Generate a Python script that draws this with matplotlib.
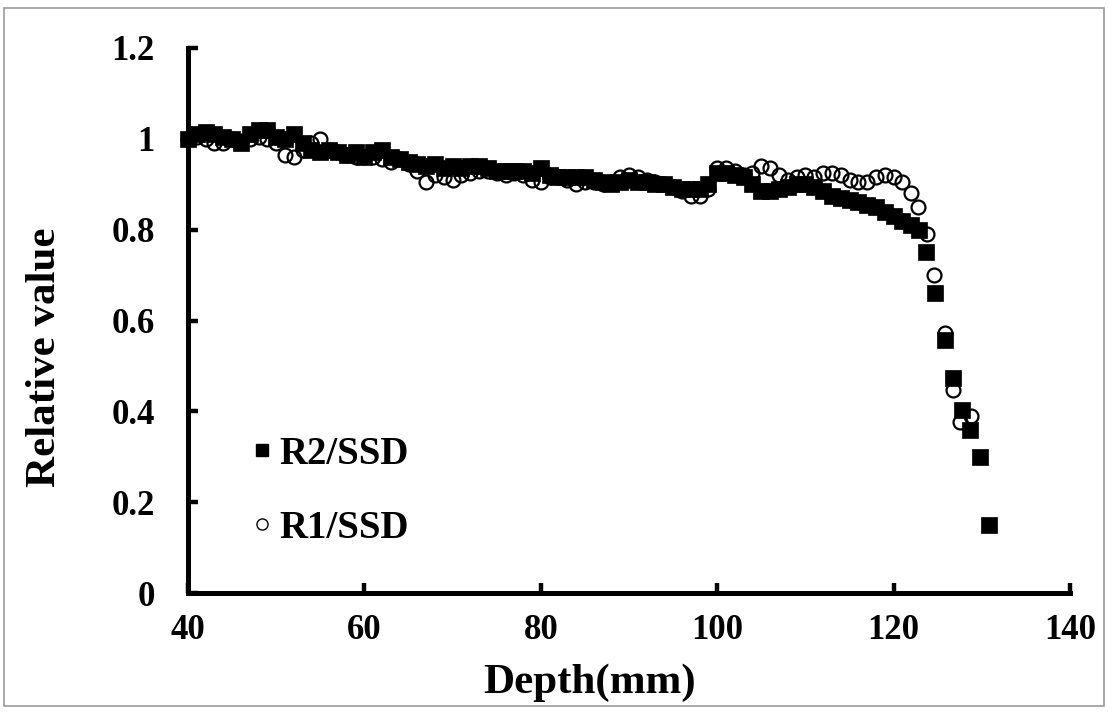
import matplotlib
matplotlib.use("Agg")
import matplotlib.pyplot as plt
from matplotlib.lines import Line2D
from matplotlib.patches import Rectangle

# ---- data ----
depth_r2 = [40, 41, 42, 43, 44, 45, 46, 47, 48, 49, 50, 51, 52, 53, 54, 55, 56, 57, 58, 59,
            60, 61, 62, 63, 64, 65, 66, 67, 68, 69, 70, 71, 72, 73, 74, 75, 76, 77, 78, 79,
            80, 81, 82, 83, 84, 85, 86, 87, 88, 89, 90, 91, 92, 93, 94, 95, 96, 97, 98, 99,
            100, 101, 102, 103, 104, 105, 106, 107, 108, 109, 110, 111, 112, 113, 114, 115,
            116, 117, 118, 119, 120, 121, 122, 122.9, 123.7, 124.7, 125.8, 126.7, 127.8,
            128.7, 129.8, 130.8]
r2_ssd = [1.0, 1.01, 1.015, 1.01, 1.005, 1.0, 0.99, 1.01, 1.02, 1.02, 1.005, 1.0, 1.01, 0.99,
          0.975, 0.97, 0.975, 0.97, 0.965, 0.97, 0.96, 0.97, 0.975, 0.96, 0.955, 0.95, 0.945,
          0.94, 0.945, 0.935, 0.94, 0.935, 0.94, 0.94, 0.935, 0.93, 0.93, 0.93, 0.93, 0.925,
          0.935, 0.92, 0.915, 0.915, 0.915, 0.915, 0.91, 0.905, 0.9, 0.905, 0.91, 0.905, 0.905,
          0.9, 0.9, 0.895, 0.89, 0.89, 0.89, 0.9, 0.925, 0.925, 0.92, 0.915, 0.9, 0.885, 0.885,
          0.89, 0.895, 0.9, 0.9, 0.895, 0.885, 0.875, 0.87, 0.865, 0.86, 0.855, 0.85, 0.84,
          0.83, 0.82, 0.81, 0.80, 0.75, 0.66, 0.557, 0.473, 0.403, 0.359, 0.30, 0.15]

depth_r1 = [40, 41, 42, 43, 44, 45, 46, 47, 48, 49, 50, 51, 52, 53, 54, 55, 56, 57, 58, 59,
            60, 61, 62, 63, 64, 65, 66, 67, 68, 69, 70, 71, 72, 73, 74, 75, 76, 77, 78, 79,
            80, 81, 82, 83, 84, 85, 86, 87, 88, 89, 90, 91, 92, 93, 94, 95, 96, 97, 98, 99,
            100, 101, 102, 103, 104, 105, 106, 107, 108, 109, 110, 111, 112, 113, 114, 115,
            116, 117, 118, 119, 120, 121, 122, 122.8, 123.8, 124.6, 125.8, 126.7, 127.5, 128.8]
r1_ssd = [1.0, 1.005, 1.0, 0.99, 0.99, 1.0, 0.995, 1.0, 1.005, 1.0, 0.99, 0.965, 0.96, 0.975,
          0.99, 1.0, 0.975, 0.97, 0.965, 0.96, 0.96, 0.96, 0.955, 0.95, 0.955, 0.945, 0.93,
          0.905, 0.92, 0.915, 0.91, 0.92, 0.925, 0.93, 0.93, 0.925, 0.92, 0.925, 0.92, 0.91,
          0.905, 0.915, 0.915, 0.91, 0.9, 0.905, 0.905, 0.9, 0.905, 0.915, 0.92, 0.915, 0.91,
          0.905, 0.9, 0.895, 0.885, 0.875, 0.875, 0.89, 0.935, 0.935, 0.93, 0.92, 0.925, 0.94,
          0.935, 0.92, 0.91, 0.915, 0.92, 0.915, 0.925, 0.925, 0.92, 0.91, 0.905, 0.905, 0.915,
          0.92, 0.915, 0.905, 0.88, 0.85, 0.79, 0.70, 0.573, 0.447, 0.376, 0.39]

x_ticks = [40, 60, 80, 100, 120, 140]
y_ticks = [0, 0.2, 0.4, 0.6, 0.8, 1.0, 1.2]
y_tick_labels = ["0", "0.2", "0.4", "0.6", "0.8", "1", "1.2"]

label_r2 = "R2/SSD"
label_r1 = "R1/SSD"
x_label = "Depth(mm)"
y_label = "Relative value"

# ---- style ----
plt.rcParams['font.family'] = ['Liberation Serif', 'DejaVu Serif']
plt.rcParams['font.weight'] = 'bold'

fig = plt.figure(figsize=(11.09, 7.12), dpi=100)
ax = fig.add_axes([188 / 1109, 1 - 593 / 712, (1070 - 188) / 1109, (593 - 48) / 712])

ax.plot(depth_r1, r1_ssd, linestyle='none', marker='o', markersize=10,
        markerfacecolor='none', markeredgecolor='black', markeredgewidth=1.6,
        clip_on=False, zorder=3)
ax.plot(depth_r2, r2_ssd, linestyle='none', marker='s', markersize=11,
        markerfacecolor='black', markeredgecolor='black', markeredgewidth=0.5,
        clip_on=False, zorder=4)

ax.set_xlim(40, 140)
ax.set_ylim(0, 1.2)
ax.set_xticks(x_ticks)
ax.set_xticklabels([str(t) for t in x_ticks])
ax.set_yticks(y_ticks)
ax.set_yticklabels(y_tick_labels)

for s in ['top', 'right']:
    ax.spines[s].set_visible(False)
for s in ['left', 'bottom']:
    ax.spines[s].set_linewidth(3.6)
    ax.spines[s].set_capstyle('projecting')

ax.tick_params(axis='both', direction='in', length=7, width=3.2, labelsize=25)
ax.tick_params(axis='y', pad=24)
ax.tick_params(axis='x', pad=15)
for lab in ax.get_xticklabels() + ax.get_yticklabels():
    lab.set_fontweight('bold')

ax.set_xlabel(x_label, fontsize=31, fontweight='bold')
ax.set_ylabel(y_label, fontsize=31, fontweight='bold')
ax.xaxis.label.set_verticalalignment('center')
ax.yaxis.label.set_verticalalignment('center')
ax.xaxis.set_label_coords((590 - 188) / 882, (593 - 683) / 545)
ax.yaxis.set_label_coords((45 - 188) / 882, (593 - 357) / 545)

handles = [
    Line2D([], [], linestyle='none', marker='s', markersize=8, markerfacecolor='black',
           markeredgecolor='black'),
    Line2D([], [], linestyle='none', marker='o', markersize=8, markerfacecolor='none',
           markeredgecolor='black', markeredgewidth=1.0),
]
ax.legend(handles, [label_r2, label_r1], loc='upper left',
          bbox_to_anchor=((250 - 188) / 882, (593 - 436) / 545),
          frameon=False, handlelength=0.6, handletextpad=0.15,
          labelspacing=0.95, borderpad=0, borderaxespad=0,
          prop={'weight': 'bold', 'size': 28})

fig.add_artist(Rectangle((4 / 1109, 6 / 712), 1100 / 1109, 698 / 712,
                         transform=fig.transFigure, fill=False,
                         edgecolor='#9a9a9a', linewidth=1.2))

fig.savefig('out.png', dpi=100)
